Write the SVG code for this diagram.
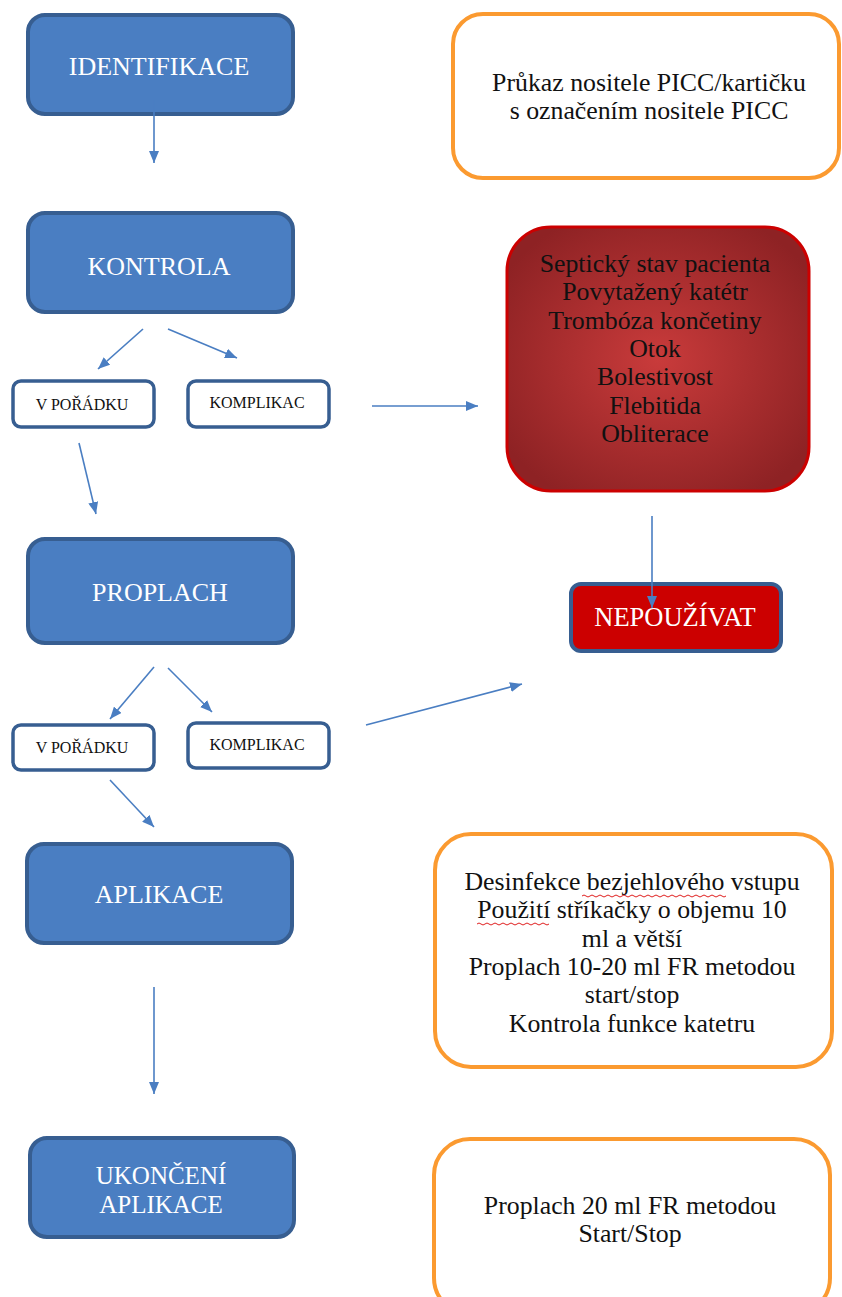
<svg xmlns="http://www.w3.org/2000/svg" width="842" height="1297" viewBox="0 0 842 1297">
<style>
.blue{fill:#4a7ec2;stroke:#375e91;stroke-width:4}
.small{fill:#fff;stroke:#375e91;stroke-width:3.5}
.orange{fill:#fff;stroke:#fb9a30;stroke-width:4}
.tw{font-family:"Liberation Serif","Times New Roman",serif;fill:#fff;font-size:26px;text-anchor:middle}
.ts{font-family:"Liberation Serif","Times New Roman",serif;fill:#111;font-size:16px;text-anchor:middle}
.tb{font-family:"Liberation Serif","Times New Roman",serif;fill:#111;font-size:25.8px;text-anchor:middle}
.conn line{stroke:#4a7ec2;stroke-width:1.6;marker-end:url(#ah)}
.sq{fill:none;stroke:#e02020;stroke-width:1}
</style>
<defs>
<marker id="ah" viewBox="0 0 12 10" refX="12" refY="5" markerWidth="12" markerHeight="10" markerUnits="userSpaceOnUse" orient="auto">
<path d="M0,0 L12,5 L0,10 z" fill="#4a7ec2"/>
</marker>
<radialGradient id="rg" cx="50%" cy="50%" r="60%">
<stop offset="0" stop-color="#c93b3b"/>
<stop offset="1" stop-color="#8e2224"/>
</radialGradient>
</defs>
<rect width="842" height="1297" fill="#fff"/>

<g id="identifikace"><rect class="blue" x="28" y="15" width="265" height="99" rx="17"/><text class="tw" x="159" y="75">IDENTIFIKACE</text></g>
<g id="kontrola"><rect class="blue" x="28" y="213" width="265" height="99" rx="17"/><text class="tw" x="159" y="275">KONTROLA</text></g>
<g id="vporadku1"><rect class="small" x="13" y="381" width="141" height="46" rx="8"/><text class="ts" x="82" y="410">V POŘÁDKU</text></g>
<g id="komplikace1"><rect class="small" x="188" y="381" width="141" height="46" rx="8"/><text class="ts" x="257" y="408">KOMPLIKAC</text></g>
<g id="proplach"><rect class="blue" x="28" y="539" width="265" height="104" rx="17"/><text class="tw" x="160" y="601">PROPLACH</text></g>
<g id="vporadku2"><rect class="small" x="13" y="725" width="141" height="45" rx="8"/><text class="ts" x="82" y="753">V POŘÁDKU</text></g>
<g id="komplikace2"><rect class="small" x="188" y="723" width="141" height="45" rx="8"/><text class="ts" x="257" y="750">KOMPLIKAC</text></g>
<g id="aplikace"><rect class="blue" x="27" y="844" width="265" height="99" rx="17"/><text class="tw" x="159" y="903">APLIKACE</text></g>
<g id="ukonceni"><rect class="blue" x="30" y="1138" width="264" height="99" rx="17"/><text class="tw" x="161" y="1184" style="font-size:25px">UKONČENÍ</text><text class="tw" x="161" y="1213" style="font-size:25px">APLIKACE</text></g>

<g id="prukaz"><rect class="orange" x="453" y="14" width="386" height="164" rx="30"/>
<text class="tb" x="649" y="91">Průkaz nositele PICC/kartičku</text>
<text class="tb" x="649" y="119">s označením nositele PICC</text></g>

<g id="komplikace-seznam"><rect x="507" y="227" width="302" height="264" rx="44" fill="url(#rg)" stroke="#cc0000" stroke-width="3"/>
<text class="tb" x="655" y="272">Septický stav pacienta</text>
<text class="tb" x="655" y="300">Povytažený katétr</text>
<text class="tb" x="655" y="329">Trombóza končetiny</text>
<text class="tb" x="655" y="357">Otok</text>
<text class="tb" x="655" y="385">Bolestivost</text>
<text class="tb" x="655" y="414">Flebitida</text>
<text class="tb" x="655" y="442">Obliterace</text></g>

<g id="nepouzivat"><rect x="571" y="584" width="210" height="67" rx="10" fill="#cc0000" stroke="#375e91" stroke-width="4"/><text class="tw" x="675" y="626" style="font-size:26.5px">NEPOUŽÍVAT</text></g>

<g id="aplikace-postup"><rect class="orange" x="435" y="834" width="397" height="233" rx="36"/>
<text class="tb" x="632" y="890">Desinfekce bezjehlového vstupu</text>
<text class="tb" x="632" y="918">Použití stříkačky o objemu 10</text>
<text class="tb" x="632" y="947">ml a větší</text>
<text class="tb" x="632" y="975">Proplach 10-20 ml FR metodou</text>
<text class="tb" x="632" y="1003">start/stop</text>
<text class="tb" x="632" y="1032">Kontrola funkce katetru</text>
<path class="sq" d="M582,896 q2,-2 4,0 t4,0 t4,0 t4,0 t4,0 t4,0 t4,0 t4,0 t4,0 t4,0 t4,0 t4,0 t4,0 t4,0 t4,0 t4,0 t4,0 t4,0 t4,0 t4,0 t4,0 t4,0 t4,0 t4,0 t4,0 t4,0 t4,0 t4,0 t4,0 t4,0 t4,0 t4,0 t4,0 t4,0 t4,0 t4,0"/>
<path class="sq" d="M477,924 q2,-2 4,0 t4,0 t4,0 t4,0 t4,0 t4,0 t4,0 t4,0 t4,0 t4,0 t4,0 t4,0 t4,0 t4,0 t4,0 t4,0 t4,0 t4,0"/></g>

<g id="ukonceni-postup"><rect class="orange" x="434" y="1139" width="396" height="175" rx="36"/>
<text class="tb" x="630" y="1214">Proplach 20 ml FR metodou</text>
<text class="tb" x="630" y="1242">Start/Stop</text></g>

<g id="connectors" class="conn">
<line x1="154" y1="100" x2="154" y2="163"/>
<line x1="143" y1="329" x2="98" y2="369"/>
<line x1="168" y1="329" x2="237" y2="358"/>
<line x1="372" y1="406" x2="478" y2="406"/>
<line x1="79" y1="443" x2="96" y2="514"/>
<line x1="652" y1="516" x2="652" y2="608"/>
<line x1="154" y1="667" x2="110" y2="719"/>
<line x1="168" y1="668" x2="212" y2="712"/>
<line x1="366" y1="725" x2="522" y2="684"/>
<line x1="110" y1="780" x2="154" y2="827"/>
<line x1="154" y1="987" x2="154" y2="1094"/>
</g>
</svg>
